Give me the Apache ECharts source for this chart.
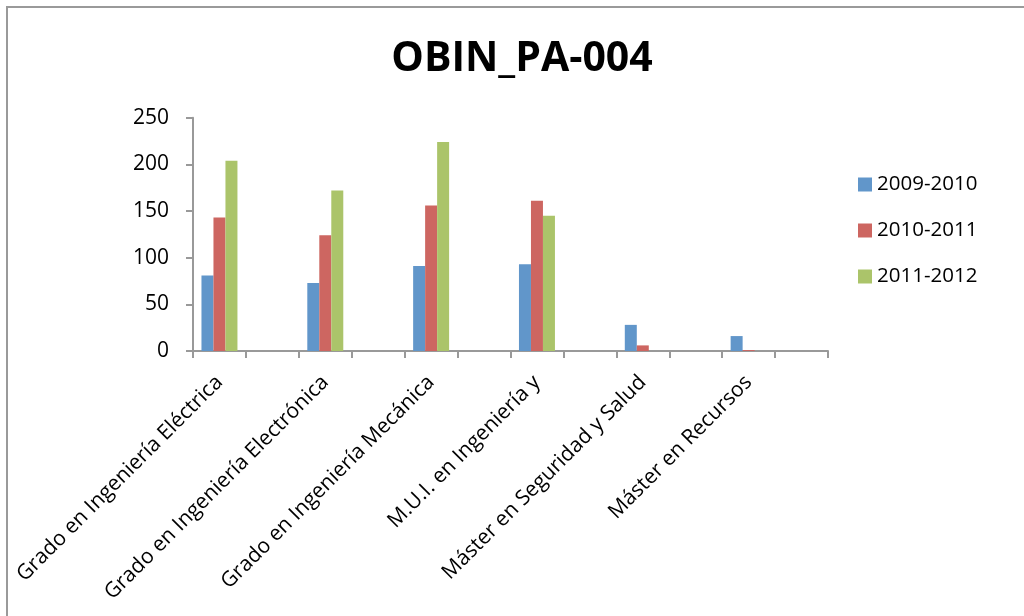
<!DOCTYPE html>
<html>
<head>
<meta charset="utf-8">
<script src="https://cdn.jsdelivr.net/npm/echarts@6/dist/echarts.min.js"></script>
<style>html,body{margin:0;padding:0;background:#fff;}#c{width:1024px;height:616px;}</style>
</head>
<body>
<div id="c"></div>
<script>
const title = 'OBIN_PA-004';
const categories = [
  'Grado en Ingeniería Eléctrica', '',
  'Grado en Ingeniería Electrónica', '',
  'Grado en Ingeniería Mecánica', '',
  'M.U.I. en Ingeniería y', '',
  'Máster en Seguridad y Salud', '',
  'Máster en Recursos', ''
];
const seriesNames = ['2009-2010', '2010-2011', '2011-2012'];
const s2009 = [81, null, 73, null, 91, null, 93, null, 28, null, 16, null];
const s2010 = [143, null, 124, null, 156, null, 161, null, 6, null, 1, null];
const s2011 = [204, null, 172, null, 224, null, 145, null, null, null, null, null];
const yTicks = {min: 0, max: 250, interval: 50};
const colors = ['#6196CA', '#CD6661', '#ABC46A'];

const font = 'Open Sans';
const chart = echarts.init(document.getElementById('c'), null, {renderer: 'canvas'});
chart.setOption({
  animation: false,
  backgroundColor: '#ffffff',
  color: colors,
  title: {
    text: title, left: 522, top: 39, textAlign: 'center', padding: 0,
    textStyle: {fontFamily: font, fontWeight: 'bold', fontSize: 41, color: '#000'}
  },
  graphic: [
    {type: 'line', shape: {x1: 7, y1: 7, x2: 1024, y2: 7}, style: {stroke: '#9a9a9a', lineWidth: 2}, silent: true},
    {type: 'line', shape: {x1: 7, y1: 6, x2: 7, y2: 616}, style: {stroke: '#9a9a9a', lineWidth: 2}, silent: true}
  ],
  legend: {
    orient: 'vertical', left: 858, top: 174, padding: 0,
    itemWidth: 14, itemHeight: 14, itemGap: 25,
    icon: 'rect',
    textStyle: {fontFamily: font, fontSize: 20.5, color: '#000', lineHeight: 20}
  },
  grid: {left: 193, right: 196, top: 117.7, bottom: 265, containLabel: false},
  xAxis: {
    type: 'category', data: categories,
    axisLine: {lineStyle: {color: '#999', width: 2}},
    axisTick: {show: true, length: 7, lineStyle: {color: '#999', width: 2}},
    axisLabel: {rotate: 45, interval: 0, margin: 28, fontFamily: font, fontSize: 21, color: '#000'}
  },
  yAxis: {
    type: 'value', min: yTicks.min, max: yTicks.max, interval: yTicks.interval,
    splitLine: {show: false},
    axisLine: {show: true, lineStyle: {color: '#999', width: 2}},
    axisTick: {show: true, length: 7, lineStyle: {color: '#999', width: 2}},
    axisLabel: {margin: 24, fontFamily: font, fontSize: 21, color: '#000'}
  },
  series: [
    {name: seriesNames[0], type: 'bar', data: s2009, barGap: '0%', barCategoryGap: '32%'},
    {name: seriesNames[1], type: 'bar', data: s2010, barGap: '0%', barCategoryGap: '32%'},
    {name: seriesNames[2], type: 'bar', data: s2011, barGap: '0%', barCategoryGap: '32%'}
  ]
});
</script>
</body>
</html>
